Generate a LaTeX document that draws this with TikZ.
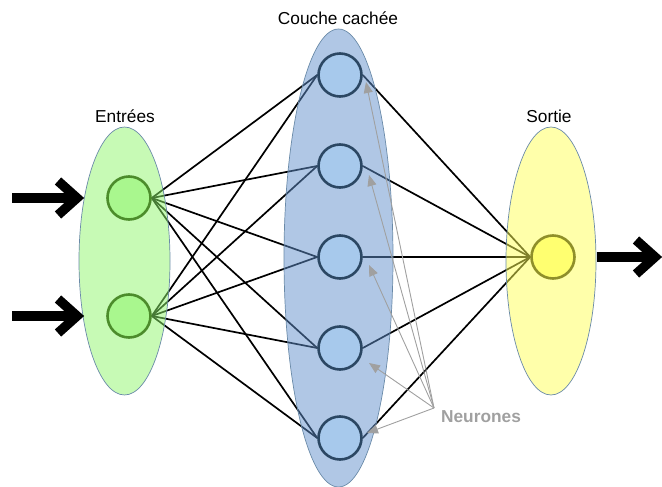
\documentclass[tikz,border=0pt]{standalone}
\usepackage{fontspec}
\setmainfont{Liberation Sans}
\usetikzlibrary{shapes.geometric,arrows.meta,calc}
\pgfdeclarelayer{wires}
\pgfdeclarelayer{layers}
\pgfsetlayers{wires,layers,main}
\definecolor{gfill}{HTML}{8FF56B}
\definecolor{bfill}{HTML}{6190CC}
\definecolor{yfill}{HTML}{FFFF55}
\definecolor{elledge}{HTML}{6A8AA8}
\definecolor{gn}{HTML}{A9F78E}
\definecolor{gnd}{HTML}{4C8C2B}
\definecolor{bn}{HTML}{A7C9EC}
\definecolor{bnd}{HTML}{2B4763}
\definecolor{yn}{HTML}{FFFF70}
\definecolor{ynd}{HTML}{8F8F2A}
\definecolor{graytxt}{HTML}{A0A0A0}
\tikzset{
  neuron/.style={circle, minimum size=43pt, inner sep=0pt, line width=2.6pt},
  inn/.style={neuron, draw=gnd, fill=gn},
  hid/.style={neuron, draw=bnd, fill=bn},
  outn/.style={neuron, draw=ynd, fill=yn},
  layerell/.style={ellipse, inner sep=0pt, draw=elledge, line width=0.7pt, fill opacity=0.5},
  wire/.style={line width=1.7pt, black},
  fat/.style={line width=9.5pt, black},
  pointer/.style={line width=0.9pt, graytxt, -{Triangle[length=11pt,width=9pt]}},
  lab/.style={anchor=base, font=\fontsize{17.3}{20}\selectfont, inner sep=0pt}
}
\begin{document}
\begin{tikzpicture}[x=1pt,y=-1pt]
\useasboundingbox (0,0) rectangle (662,487);
% neurons
\node[inn] (i1) at (129,198) {};
\node[inn] (i2) at (129,316) {};
\node[hid] (h1) at (340,75) {};
\node[hid] (h2) at (340,166) {};
\node[hid] (h3) at (340,257) {};
\node[hid] (h4) at (340,348) {};
\node[hid] (h5) at (340,438) {};
\node[outn] (o) at (553,257) {};
% layer ellipses
\begin{pgfonlayer}{layers}
\node[layerell, fill=gfill, minimum width=91pt, minimum height=268pt] (E) at (124.5,261) {};
\node[layerell, fill=bfill, minimum width=109pt, minimum height=458pt] (C) at (338.5,258) {};
\node[layerell, fill=yfill, minimum width=90pt, minimum height=268pt] (S) at (551,261) {};
\end{pgfonlayer}
% connectors
\begin{pgfonlayer}{wires}
\foreach \i in {i1,i2}
  \foreach \h in {h1,h2,h3,h4,h5}
    \draw[wire] (\i.east) -- (\h.west);
\foreach \h in {h1,h2,h3,h4,h5}
  \draw[wire] (\h.east) -- (o.west);
\end{pgfonlayer}
% labels
\node[lab] (lE) at (125,123) {Entrées};
\node[lab] (lC) at (338,25) {Couche cachée};
\node[lab] (lS) at (549,123) {Sortie};
\node[lab, text=graytxt, font=\fontsize{17.3}{20}\selectfont\bfseries] (lN) at (481,422) {Neurones};
% input / output arrows
\coordinate (a1s) at (12,198);
\coordinate (a1t) at (77,198);
\coordinate (a2s) at (12,316);
\coordinate (a2t) at (77,316);
\coordinate (a3s) at (597,257);
\coordinate (a3t) at (655,257);
\foreach \s/\t in {a1s/a1t,a2s/a2t,a3s/a3t}{
  \draw[fat] (\s) -- (\t);
  \draw[fat, line join=miter] ($(\t)+(-19,-17)$) -- (\t) -- ($(\t)+(-19,17)$);
}
% pointers to neurons
\coordinate (nn) at (434,408);
\draw[pointer] (nn) -- ($(h1)+(26,7)$);
\draw[pointer] (nn) -- ($(h2)+(29,9)$);
\draw[pointer] (nn) -- ($(h3)+(29,8)$);
\draw[pointer] (nn) -- ($(h4)+(29,15)$);
\draw[pointer] (nn) -- ($(h5)+(27,-5)$);
\end{tikzpicture}
\end{document}
